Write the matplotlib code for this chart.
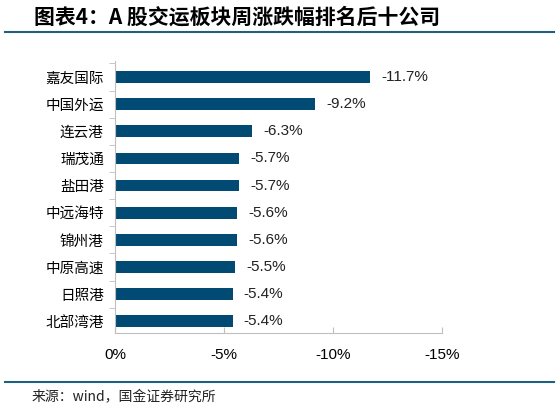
import matplotlib
matplotlib.use("Agg")
import matplotlib.pyplot as plt
import numpy as np

plt.rcParams['font.family'] = ['Noto Sans CJK SC', 'DejaVu Sans']

# 数据
companies = ['嘉友国际', '中国外运', '连云港', '瑞茂通', '盐田港',
             '中远海特', '锦州港', '中原高速', '日照港', '北部湾港']
changes = [-11.7, -9.2, -6.3, -5.7, -5.7, -5.6, -5.6, -5.5, -5.4, -5.4]
xticks = [0, -5, -10, -15]

bar_color = '#004A73'
line_color = '#1F5F80'
grey = '#BFBFBF'

fig = plt.figure(figsize=(5.59, 4.04), dpi=100)
ax = fig.add_axes([115 / 559, 1 - 332.7 / 404, (441.7 - 115) / 559, (332.7 - 61) / 404])

y = np.arange(len(companies))
ax.barh(y, changes, height=0.43, color=bar_color)
for yi, v in zip(y, changes):
    ax.annotate(f'{v:.1f}%', (v, yi), xytext=(8, 0), textcoords='offset points',
                ha='left', va='center', fontsize=11, color='#222222',
                family=['Liberation Sans', 'DejaVu Sans'])

ax.set_xlim(0, -15)
ax.set_ylim(9.42, -0.59)
ax.set_xticks(xticks)
ax.set_xticklabels([f'{t}%' for t in xticks], fontsize=11,
                   family=['Liberation Sans', 'DejaVu Sans'])
ax.set_yticks(y)
ax.set_yticklabels(companies, fontsize=10.5)
ax.set_yticks(np.arange(-0.5, 9.5, 1), minor=True)
ax.tick_params(axis='y', which='major', length=0, pad=8)
ax.tick_params(axis='y', which='minor', length=4, color=grey, direction='out')
ax.tick_params(axis='x', length=4, color=grey, direction='in', pad=11)

for s in ['top', 'right']:
    ax.spines[s].set_visible(False)
ax.spines['left'].set_color(grey)
ax.spines['bottom'].set_color(grey)

# 标题和来源
fig.text(34 / 559, 1 - 17 / 404, '图表4：A 股交运板块周涨跌幅排名后十公司',
         fontsize=15, fontweight='bold', fontstyle='italic', va='center', ha='left')
fig.add_artist(plt.Line2D([5 / 559, 554 / 559], [1 - 32 / 404, 1 - 32 / 404],
                          color=line_color, lw=1.5))
fig.add_artist(plt.Line2D([5 / 559, 554 / 559], [1 - 382 / 404, 1 - 382 / 404],
                          color=line_color, lw=1.5))
fig.text(32 / 559, 1 - 397 / 404, '来源：wind，国金证券研究所',
         fontsize=10, va='center', ha='left', color='#222222')

fig.savefig('out.png', dpi=100)
